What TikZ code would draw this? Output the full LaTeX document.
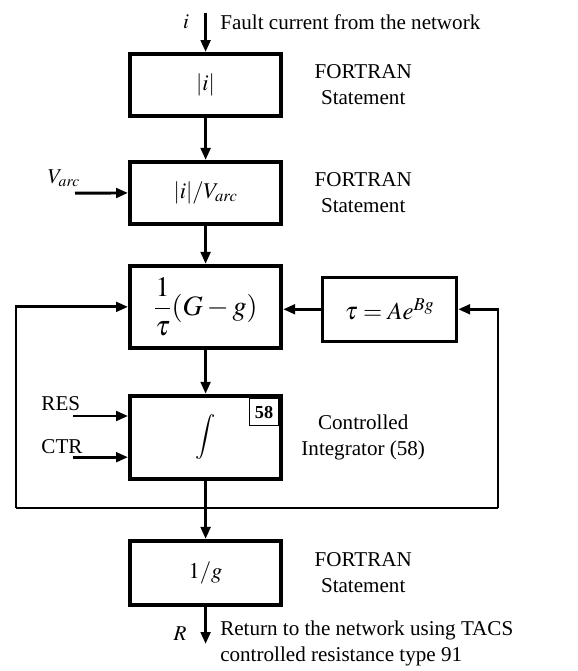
\documentclass[tikz,border=0pt]{standalone}
\usepackage{mathptmx}
\usepackage{fontspec}
\setmainfont{Liberation Serif}
\usetikzlibrary{calc,positioning,arrows.meta}
\tikzset{blk/.style={draw,line width=2.8pt,minimum width=3.78cm,
minimum height=1.55cm,inner sep=0pt,font=\fontsize{16}{19}\selectfont},
note/.style={align=center,inner sep=0pt,font=\fontsize{15}{18.5}\selectfont}}
\tikzstyle{ptr}  = [draw, line width=2.1pt, -{Triangle[length=3mm,width=2.4mm]}]
\tikzstyle{wire} = [draw, line width=2.1pt]
\tikzstyle{tag}  = [draw, line width=1pt, minimum width=0.72cm, minimum height=0.68cm,
                    inner sep=0pt, font=\fontsize{13}{15}\selectfont\bfseries]

\begin{document}
\begin{tikzpicture}
		\useasboundingbox (0,0) rectangle (14.425,-16.775);
		\coordinate (notecol) at (9.08,0);

		% main chain
		\node[blk] (absi) at (5.14,-2.125) {$|i|$};
		\node[blk, below=1.05cm of absi] (div) {$|i|/V_{arc}$};
		\node[blk, below=0.95cm of div, minimum height=2.05cm,
		      font=\fontsize{20}{24}\selectfont] (rate) {$\displaystyle\frac{1}{\tau}(G-g)$};
		\node[blk, below=1.1cm of rate, minimum height=2.08cm] (integ) {$\displaystyle\int$};
		\node[tag, anchor=north east] (tag58) at ($(integ.north east)+(-2.8pt,-2.8pt)$) {58};
		\node[blk, below=1.45cm of integ, minimum height=1.6cm] (inv) {$1/g$};
		\node[blk, right=0.95cm of rate, yshift=-0.06cm, line width=2.1pt,
		      minimum width=3.35cm, minimum height=1.6cm,
		      font=\fontsize{17.5}{21}\selectfont] (tau) {$\tau = Ae^{Bg}$};

		% side notes
		\node[note] (n1) at (absi -| notecol) {FORTRAN\\Statement};
		\node[note] (n2) at (div -| notecol) {FORTRAN\\Statement};
		\node[note] (n3) at (integ -| notecol) {Controlled\\Integrator (58)};
		\node[note] (n4) at (inv -| notecol) {FORTRAN\\Statement};

		% inputs and output
		\coordinate (src) at (5.14,-0.33);
		\node[note] (ilab) at (4.65,-0.55) {$i$};
		\node[note, anchor=west] (fault) at (5.5,-0.55) {Fault current from the network};
		\coordinate (varc) at (1.875,-4.83);
		\node[note] (varclab) at (1.6,-4.45) {$V_{arc}$};
		\coordinate (res) at (1.83,-10.4);
		\node[note] (reslab) at (1.52,-10.1) {RES};
		\coordinate (ctr) at (1.83,-11.43);
		\node[note] (ctrlab) at (1.55,-11.17) {CTR};
		\coordinate (dst) at (5.14,-16.1);
		\node[note] (rlab) at (4.5,-15.85) {$R$};
		\node[note, anchor=west, align=left] (ret) at (5.5,-16.08)
		      {Return to the network using TACS\\controlled resistance type 91};

		% feedback loop
		\coordinate (fb) at (5.14,-12.7);
		\coordinate (fbl) at (0.4,-12.7);
		\coordinate (fbr) at (12.45,-12.7);

		\draw[ptr] (src) -- (absi);
		\draw[ptr] (absi) -- (div);
		\draw[ptr] (varc) -- (div.west);
		\draw[ptr] (div) -- (rate);
		\draw[ptr] (rate) -- (integ);
		\draw[ptr] (res) -- (res -| integ.west);
		\draw[ptr] (ctr) -- (ctr -| integ.west);
		\draw[ptr] (integ) -- (inv);
		\draw[ptr] (inv) -- (dst);
		\draw[ptr] (tau.west) -- (tau.west -| rate.east);
		\draw[wire] (fbl) -- (fbr);
		\draw[ptr] (fbl) |- (rate.west);
		\draw[ptr] (fbr) |- (tau.east);
	\end{tikzpicture}
\end{document}
